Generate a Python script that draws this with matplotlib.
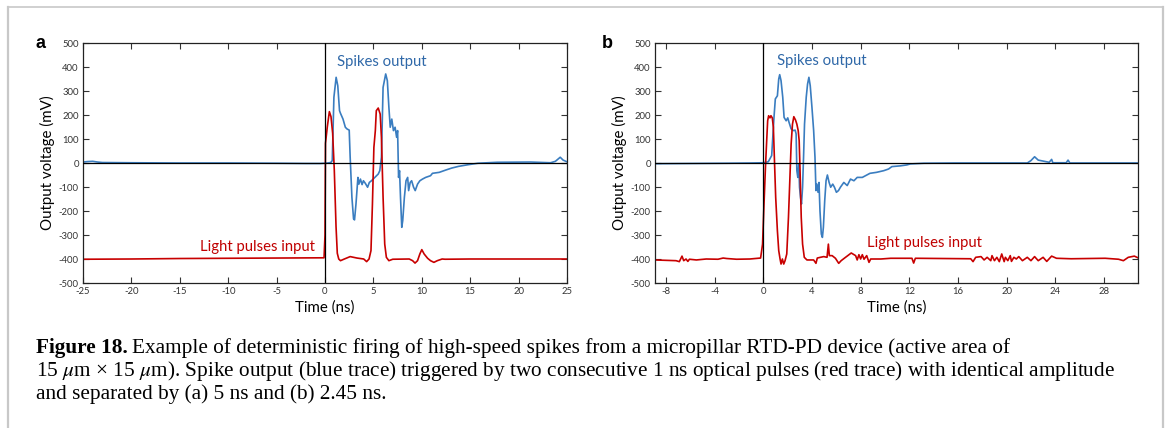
import matplotlib
matplotlib.use("Agg")
import matplotlib.pyplot as plt
from matplotlib.lines import Line2D

# ---------------- data (panel a) ----------------
a_blue_t = [-25, -24.5, -24, -23.5, -23, -20, -15, -10, -5, -2, -0.5, 0.3, 0.6,
            0.75, 0.92, 1.15, 1.32, 1.5, 1.6, 1.86, 2.1, 2.27, 2.5, 2.6, 2.78, 2.95,
            3.05, 3.2, 3.4, 3.5, 3.66, 3.83, 3.97, 4.17, 4.4, 4.58, 4.8, 5.15, 5.5,
            5.66, 5.83, 6.0, 6.27, 6.44, 6.6, 6.74, 6.9, 7.07, 7.24, 7.4, 7.5, 7.6,
            7.7, 7.8, 7.93, 8.03, 8.2, 8.37, 8.54, 8.64, 8.8, 8.95, 9.15, 9.32, 9.56,
            9.8, 10.07, 10.4, 10.9, 11.1, 11.8, 12.5, 13.1, 13.8, 14.8, 15.8, 17.8,
            21.25, 23.3, 23.8, 24.3, 24.6, 25]
a_blue_v = [4, 6, 7, 4, 2, 1, 0, 0, -1, -2, -2, 0, 2,
            10, 274, 357, 322, 218, 207, 183, 149, 142, 137, 24, -143, -233,
            -237, -171, -60, -88, -67, -90, -74, -85, -101, -81, -74, -60, -46,
            -32, 24, 315, 371, 343, 232, 149, 183, 135, 149, 107, 135, -60,
            -32, -143, -268, -240, -143, -74, -60, -115, -81, -74, -101, -115, -88,
            -74, -67, -60, -53, -43, -39, -29, -21, -14, -7, -1, 3,
            4, 1, 7, 24, 12, 5]

a_red_t = [-25, -20, -15, -10, -5, -0.1, 0.0, 0.05, 0.24, 0.45, 0.62, 0.79, 0.96,
           1.14, 1.27, 1.42, 1.6, 2.0, 2.6, 3.3, 4.0, 4.3, 4.55, 4.75, 4.9, 5.05,
           5.2, 5.3, 5.5, 5.7, 5.83, 6.0, 6.17, 6.34, 6.6, 7.0, 8.7, 9.05, 9.3,
           9.56, 9.8, 10.0, 10.24, 10.6, 10.9, 11.25, 11.6, 12.1, 12.4, 15, 20, 25]
a_red_v = [-401, -400, -398, -397, -396, -395, -300, 82, 151, 214, 193, 124, -29,
           -265, -376, -400, -407, -400, -390, -396, -400, -411, -400, -365, -171, 65,
           135, 218, 229, 204, 107, -143, -338, -393, -407, -401, -400, -407, -417,
           -407, -379, -361, -379, -397, -407, -414, -407, -400, -401, -400, -400, -400]

# ---------------- data (panel b) ----------------
b_blue_t = [-8.9, -6, -3, -1, 0, 0.41, 0.69, 0.88, 0.99, 1.16, 1.27, 1.35, 1.46, 1.6,
            1.71, 1.88, 2.01, 2.12, 2.29, 2.48, 2.62, 2.7, 2.76, 2.84, 2.92, 2.98,
            3.06, 3.14, 3.23, 3.31, 3.39, 3.53, 3.64, 3.75, 3.86, 4.0, 4.14, 4.25,
            4.33, 4.41, 4.5, 4.58, 4.66, 4.77, 4.86, 4.94, 5.05, 5.16, 5.27, 5.41,
            5.54, 5.71, 5.85, 6.01, 6.18, 6.34, 6.62, 6.9, 7.17, 7.45, 7.72, 8.14,
            8.77, 9.3, 9.9, 10.3, 10.57, 11.25, 11.8, 12.08, 13.2, 15.7, 21.7, 22.0,
            22.3, 22.6, 23.1, 23.5, 23.7, 23.8, 24.9, 25.05, 25.2, 30.8]
b_blue_v = [-3, -2, -1, 0, 1, 5, 31, 190, 267, 280, 350, 368, 343, 274,
            190, 176, 188, 169, 142, 135, 137, 121, -32, -60, -4, -101,
            -143, -171, -101, 24, 162, 274, 329, 357, 322, 232, 135, 24,
            -115, -88, -122, -81, -199, -296, -310, -268, -157, -74, -50, -81,
            -101, -88, -101, -122, -115, -101, -81, -94, -67, -74, -60, -60,
            -43, -39, -32, -25, -15, -12, -8, -4, -1, 0, 0, 10,
            26, 12, 7, 3, 15, 1, 1, 12, 0, 0]

b_red_t = [-8.9, -7.17, -6.9, -6.68, -6.54, -6.35, -6.2, -6.07, -5.5, -4.69, -3.72,
           -3.3, -3.0, -2.2, -1.1, -0.22, -0.06, 0.06, 0.19, 0.28, 0.36, 0.44, 0.55,
           0.63, 0.74, 0.83, 0.91, 1.02, 1.16, 1.27, 1.38, 1.46, 1.57, 1.68, 1.79,
           1.93, 2.07, 2.21, 2.29, 2.4, 2.51, 2.65, 2.76, 2.87, 2.95, 3.03, 3.12,
           3.23, 3.37, 3.59, 4.14, 4.33, 4.44, 4.69, 4.97, 5.24, 5.35, 5.43, 5.66,
           5.93, 6.2, 6.4, 6.76, 7.23, 7.59, 7.72, 7.86, 8.0, 8.14, 8.28, 8.5, 8.69,
           8.83, 9.66, 10.48, 11.53, 12.22, 12.36, 12.5, 17.05, 17.24, 17.46, 17.9,
           18.15, 18.4, 18.7, 18.8, 19.0, 19.2, 19.4, 19.6, 19.8, 19.9, 20.1, 20.3,
           20.4, 20.6, 20.8, 21.0, 21.3, 21.7, 22.0, 22.3, 22.6, 23.0, 23.3, 23.7,
           24.1, 25.3, 28.1, 29.2, 29.6, 30.0, 30.5, 30.8]
b_red_v = [-404, -407, -411, -388, -407, -400, -410, -401, -404, -400, -401,
           -396, -398, -401, -400, -396, -338, -171, -4, 93, 176, 197, 188,
           197, 188, 149, 24, -143, -282, -365, -400, -421, -400, -421, -407,
           -379, -226, -32, 79, 162, 193, 179, 162, 135, 93, -46, -226,
           -338, -393, -404, -404, -418, -396, -393, -390, -393, -338, -386, -386,
           -397, -418, -407, -393, -375, -386, -404, -382, -400, -382, -401, -386, -414,
           -400, -400, -397, -397, -397, -417, -397, -399, -411, -393, -390,
           -404, -393, -407, -386, -407, -393, -411, -379, -411, -393, -407, -386,
           -410, -393, -400, -390, -407, -393, -407, -390, -407, -393, -410, -388,
           -397, -399, -397, -401, -407, -393, -388, -395]

y_ticks = [-500, -400, -300, -200, -100, 0, 100, 200, 300, 400, 500]
a_xticks = [-25, -20, -15, -10, -5, 0, 5, 10, 15, 20, 25]
b_xticks = [-8, -4, 0, 4, 8, 12, 16, 20, 24, 28]

caption_lines = [
    "Example of deterministic firing of high-speed spikes from a micropillar RTD-PD device (active area of",
    "15 $\\mu$m \u00d7 15 $\\mu$m). Spike output (blue trace) triggered by two consecutive 1 ns optical pulses (red trace) with identical amplitude",
    "and separated by (a) 5 ns and (b) 2.45 ns.",
]

# ---------------- styling ----------------
BLUE = "#3a7dc0"
RED = "#c80000"
BLUE_TXT = "#2f68a8"
RED_TXT = "#c00000"
SANS = "Lato"

plt.rcParams["font.family"] = [SANS, "DejaVu Sans"]
plt.rcParams["mathtext.fontset"] = "stix"
plt.rcParams["axes.unicode_minus"] = False

fig = plt.figure(figsize=(11.67, 4.28), dpi=100)
W, H = 1167, 428


def make_axes(left, right, top, bottom):
    return fig.add_axes([left / W, 1 - bottom / H, (right - left) / W, (bottom - top) / H])


axa = make_axes(83, 567, 43, 283)
axb = make_axes(655, 1138, 43, 283)


def style(ax, xlim, xticks, t_blue, v_blue, t_red, v_red):
    ax.plot(t_blue, v_blue, color=BLUE, lw=1.2, zorder=2)
    ax.plot(t_red, v_red, color=RED, lw=1.2, zorder=2)
    ax.axhline(0, color="black", lw=0.9, zorder=3)
    ax.axvline(0, color="black", lw=0.9, zorder=3)
    ax.set_xlim(*xlim)
    ax.set_ylim(-500, 500)
    ax.set_xticks(xticks)
    ax.set_yticks(y_ticks)
    ax.tick_params(direction="in", length=4, width=0.8, top=True, right=True,
                   labelsize=6.8, labelcolor="#333333", color="#333333", pad=3)
    for s in ax.spines.values():
        s.set_color("#222222")
        s.set_linewidth(0.9)
    ax.set_xlabel("Time (ns)", fontsize=10.8, labelpad=3)
    ax.set_ylabel("Output voltage (mV)", fontsize=10.8, labelpad=3)


style(axa, (-25, 25), a_xticks, a_blue_t, a_blue_v, a_red_t, a_red_v)
style(axb, (-8.9, 30.8), b_xticks, b_blue_t, b_blue_v, b_red_t, b_red_v)

axa.text(1.2, 422, "Spikes output", color=BLUE_TXT, fontsize=10.7, va="center", ha="left")
axa.text(-1.0, -350, "Light pulses input", color=RED_TXT, fontsize=10.7, va="center", ha="right")
axb.text(1.13, 425, "Spikes output", color=BLUE_TXT, fontsize=10.7, va="center", ha="left")
axb.text(8.5, -335, "Light pulses input", color=RED_TXT, fontsize=10.7, va="center", ha="left")

fig.text(35 / W, 1 - 43 / H, "a", fontsize=13, fontweight="bold",
         family="Liberation Sans", va="center", ha="left")
fig.text(602 / W, 1 - 43 / H, "b", fontsize=13, fontweight="bold",
         family="Liberation Sans", va="center", ha="left")

# caption
cap_size = 15.35
serif = "Liberation Serif"
y_lines = [348, 371, 394]
t0 = fig.text(36 / W, 1 - y_lines[0] / H, "Figure 18.", fontsize=cap_size, family=serif,
              fontweight="bold", va="center", ha="left")
fig.canvas.draw()
bb = t0.get_window_extent()
fig.text((bb.x1 + 4) / W, 1 - y_lines[0] / H, caption_lines[0], fontsize=cap_size,
         family=serif, va="center", ha="left")
fig.text(36 / W, 1 - y_lines[1] / H, caption_lines[1], fontsize=cap_size,
         family=serif, va="center", ha="left")
fig.text(36 / W, 1 - y_lines[2] / H, caption_lines[2], fontsize=cap_size,
         family=serif, va="center", ha="left")

# page frame
frame_col = "#c8c8c8"
fig.add_artist(Line2D([7.5 / W, 7.5 / W], [0, 1 - 7 / H], color=frame_col, lw=1.6,
                      transform=fig.transFigure))
fig.add_artist(Line2D([7.5 / W, 1163 / W], [1 - 7 / H, 1 - 7 / H], color=frame_col, lw=1.2,
                      transform=fig.transFigure))
fig.add_artist(Line2D([1163 / W, 1163 / W], [0, 1 - 7 / H], color=frame_col, lw=1.6,
                      transform=fig.transFigure))

fig.savefig("out.png", dpi=100)
